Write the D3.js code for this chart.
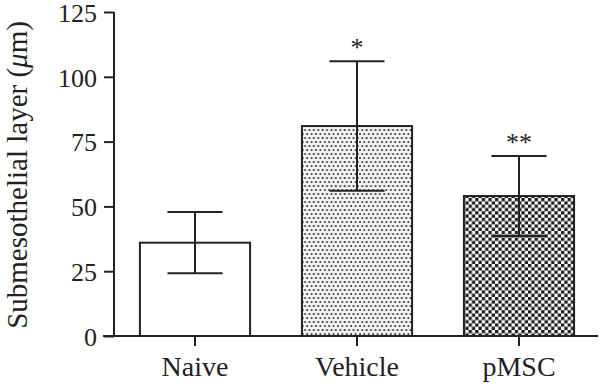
<!DOCTYPE html>
<html>
<head>
<meta charset="utf-8">
<script src="https://cdn.jsdelivr.net/npm/d3@7"></script>
<style>
  body { margin: 0; background: #fff; }
  text { font-family: "Liberation Serif", "DejaVu Serif", serif; fill: #222; }
</style>
</head>
<body>
<div id="chart"></div>
<script>
const groups = ["Naive", "Vehicle", "pMSC"];
const means = [36, 81, 54];
const errors = [11.8, 25, 15.4];
const stars = ["", "*", "**"];
const yTicks = [0, 25, 50, 75, 100, 125];

const width = 600, height = 388;
const ink = "#222";

const svg = d3.select("#chart")
  .append("svg")
  .attr("width", width)
  .attr("height", height);

const defs = svg.append("defs");

// dotted fill for Vehicle
const dots = defs.append("pattern")
  .attr("id", "dots")
  .attr("patternUnits", "userSpaceOnUse")
  .attr("width", 4.4)
  .attr("height", 8);
dots.append("rect").attr("width", 4.4).attr("height", 8).attr("fill", "#f2f2f2");
dots.append("rect").attr("x", 0.6).attr("y", 1.2).attr("width", 1.7).attr("height", 1.7).attr("fill", "#222");
dots.append("rect").attr("x", 2.8).attr("y", 5.2).attr("width", 1.7).attr("height", 1.7).attr("fill", "#222");

// checkerboard fill for pMSC
const checks = defs.append("pattern")
  .attr("id", "checks")
  .attr("patternUnits", "userSpaceOnUse")
  .attr("width", 6.6)
  .attr("height", 6.6);
checks.append("rect").attr("width", 6.6).attr("height", 6.6).attr("fill", "#fff");
checks.append("rect").attr("width", 3.3).attr("height", 3.3).attr("fill", "#1e1e1e");
checks.append("rect").attr("x", 3.3).attr("y", 3.3).attr("width", 3.3).attr("height", 3.3).attr("fill", "#1e1e1e");

const fills = ["#fff", "url(#dots)", "url(#checks)"];

const x = d3.scaleBand()
  .domain(groups)
  .range([114, 600])
  .padding(0.32)
  .paddingOuter(0.16);

const y = d3.scaleLinear()
  .domain([0, 125])
  .range([336, 12]);

// bars
svg.selectAll(".bar")
  .data(groups)
  .enter()
  .append("rect")
  .attr("x", d => x(d))
  .attr("y", (d, i) => y(means[i]))
  .attr("width", x.bandwidth())
  .attr("height", (d, i) => y(0) - y(means[i]))
  .attr("fill", (d, i) => fills[i])
  .attr("stroke", ink)
  .attr("stroke-width", 2);

// error bars
const capHalf = x.bandwidth() / 4;
const err = svg.selectAll(".err")
  .data(groups)
  .enter()
  .append("g")
  .attr("stroke", ink)
  .attr("stroke-width", 2);

err.append("line")
  .attr("x1", d => x(d) + x.bandwidth() / 2)
  .attr("x2", d => x(d) + x.bandwidth() / 2)
  .attr("y1", (d, i) => y(means[i] + errors[i]))
  .attr("y2", (d, i) => y(means[i] - errors[i]));
err.append("line")
  .attr("x1", d => x(d) + x.bandwidth() / 2 - capHalf)
  .attr("x2", d => x(d) + x.bandwidth() / 2 + capHalf)
  .attr("y1", (d, i) => y(means[i] + errors[i]))
  .attr("y2", (d, i) => y(means[i] + errors[i]));
err.append("line")
  .attr("x1", d => x(d) + x.bandwidth() / 2 - capHalf)
  .attr("x2", d => x(d) + x.bandwidth() / 2 + capHalf)
  .attr("y1", (d, i) => y(means[i] - errors[i]))
  .attr("y2", (d, i) => y(means[i] - errors[i]));

// significance marks
svg.selectAll(".star")
  .data(groups)
  .enter()
  .append("text")
  .attr("x", d => x(d) + x.bandwidth() / 2)
  .attr("y", (d, i) => y(means[i] + errors[i]) - 5)
  .attr("text-anchor", "middle")
  .style("font-size", "26px")
  .text((d, i) => stars[i]);

// y axis
const yAxis = svg.append("g")
  .attr("transform", "translate(114,0)")
  .call(d3.axisLeft(y).tickValues(yTicks).tickSize(10).tickPadding(7));
yAxis.select(".domain").attr("stroke", ink).attr("stroke-width", 2).attr("d", `M0,${y(0)}V${y(125)}`);
yAxis.selectAll(".tick line").attr("stroke", ink).attr("stroke-width", 2);
yAxis.selectAll(".tick text")
  .style("font-size", "26px")
  .style("font-family", "Liberation Serif")
  .attr("dy", "0.36em")
  .attr("fill", ink);

// x axis
const xAxis = svg.append("g")
  .attr("transform", `translate(0,${y(0)})`)
  .call(d3.axisBottom(x).tickSize(10).tickPadding(10));
xAxis.select(".domain").attr("stroke", ink).attr("stroke-width", 2).attr("d", "M103,0H598");
xAxis.selectAll(".tick line").attr("stroke", ink).attr("stroke-width", 2);
xAxis.selectAll(".tick text")
  .style("font-size", "28px")
  .style("font-family", "Liberation Serif")
  .attr("fill", ink);

// y label
svg.append("text")
  .attr("transform", `translate(27,${(y(0) + y(125)) / 2 + 1}) rotate(-90)`)
  .attr("text-anchor", "middle")
  .style("font-size", "29px")
  .html('Submesothelial layer (<tspan font-style="italic">μ</tspan>m)');
</script>
</body>
</html>
